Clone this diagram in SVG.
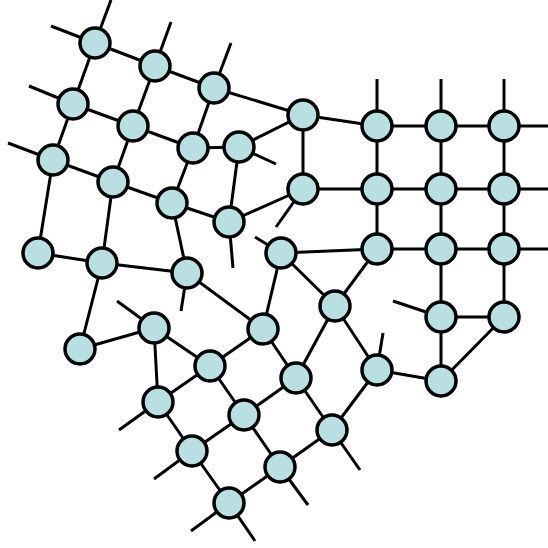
<svg xmlns="http://www.w3.org/2000/svg" width="548" height="548" viewBox="0 0 548 548">
<style>
.e line{stroke:#000;stroke-width:3;stroke-linecap:butt}
.n circle{fill:#badfe2;stroke:#000;stroke-width:3.5}
</style>
<rect width="548" height="548" fill="#fff"/>
<g id="connectors" class="e">
<!-- stubs -->
<line x1="95" y1="43" x2="111" y2="0"/>
<line x1="95" y1="43" x2="51" y2="26"/>
<line x1="155" y1="66" x2="171" y2="22"/>
<line x1="214" y1="88" x2="231" y2="43"/>
<line x1="73" y1="104" x2="29" y2="86"/>
<line x1="53" y1="160" x2="8" y2="143"/>
<line x1="239" y1="147" x2="276" y2="164"/>
<line x1="229" y1="222" x2="233" y2="268"/>
<line x1="303" y1="189" x2="276" y2="227"/>
<line x1="281" y1="253" x2="255" y2="237"/>
<line x1="187" y1="273" x2="181" y2="311"/>
<line x1="154" y1="328" x2="117" y2="301"/>
<line x1="158" y1="402" x2="119" y2="430"/>
<line x1="192" y1="451" x2="154" y2="479"/>
<line x1="229" y1="503" x2="191" y2="531"/>
<line x1="229" y1="503" x2="255" y2="541"/>
<line x1="280" y1="467" x2="308" y2="505"/>
<line x1="332" y1="430" x2="360" y2="470"/>
<line x1="377" y1="370" x2="383" y2="333"/>
<line x1="441" y1="317" x2="393" y2="301"/>
<line x1="377" y1="126" x2="377" y2="79"/>
<line x1="441" y1="126" x2="441" y2="79"/>
<line x1="504" y1="126" x2="504" y2="79"/>
<line x1="504" y1="126" x2="548" y2="126"/>
<line x1="504" y1="189" x2="548" y2="189"/>
<line x1="504" y1="249" x2="548" y2="249"/>
<!-- edges -->
<line x1="95" y1="43" x2="155" y2="66"/>
<line x1="155" y1="66" x2="214" y2="88"/>
<line x1="214" y1="88" x2="303" y2="115"/>
<line x1="95" y1="43" x2="73" y2="104"/>
<line x1="155" y1="66" x2="133" y2="126"/>
<line x1="214" y1="88" x2="193" y2="148"/>
<line x1="73" y1="104" x2="133" y2="126"/>
<line x1="133" y1="126" x2="193" y2="148"/>
<line x1="193" y1="148" x2="239" y2="147"/>
<line x1="239" y1="147" x2="303" y2="115"/>
<line x1="73" y1="104" x2="53" y2="160"/>
<line x1="133" y1="126" x2="113" y2="182"/>
<line x1="193" y1="148" x2="172" y2="203"/>
<line x1="239" y1="147" x2="229" y2="222"/>
<line x1="53" y1="160" x2="113" y2="182"/>
<line x1="113" y1="182" x2="172" y2="203"/>
<line x1="172" y1="203" x2="229" y2="222"/>
<line x1="229" y1="222" x2="303" y2="189"/>
<line x1="53" y1="160" x2="38" y2="253"/>
<line x1="113" y1="182" x2="102" y2="263"/>
<line x1="172" y1="203" x2="187" y2="273"/>
<line x1="38" y1="253" x2="102" y2="263"/>
<line x1="102" y1="263" x2="187" y2="273"/>
<line x1="102" y1="263" x2="80" y2="349"/>
<line x1="80" y1="349" x2="154" y2="328"/>
<line x1="187" y1="273" x2="263" y2="329"/>
<line x1="154" y1="328" x2="210" y2="366"/>
<line x1="154" y1="328" x2="158" y2="402"/>
<line x1="210" y1="366" x2="263" y2="329"/>
<line x1="210" y1="366" x2="158" y2="402"/>
<line x1="210" y1="366" x2="244" y2="415"/>
<line x1="158" y1="402" x2="192" y2="451"/>
<line x1="192" y1="451" x2="244" y2="415"/>
<line x1="192" y1="451" x2="229" y2="503"/>
<line x1="229" y1="503" x2="280" y2="467"/>
<line x1="244" y1="415" x2="280" y2="467"/>
<line x1="244" y1="415" x2="296" y2="378"/>
<line x1="280" y1="467" x2="332" y2="430"/>
<line x1="263" y1="329" x2="296" y2="378"/>
<line x1="263" y1="329" x2="281" y2="253"/>
<line x1="296" y1="378" x2="332" y2="430"/>
<line x1="296" y1="378" x2="335" y2="306"/>
<line x1="281" y1="253" x2="335" y2="306"/>
<line x1="281" y1="253" x2="377" y2="249"/>
<line x1="335" y1="306" x2="377" y2="249"/>
<line x1="335" y1="306" x2="377" y2="370"/>
<line x1="377" y1="370" x2="332" y2="430"/>
<line x1="377" y1="370" x2="441" y2="381"/>
<line x1="441" y1="381" x2="441" y2="317"/>
<line x1="441" y1="381" x2="504" y2="317"/>
<line x1="441" y1="317" x2="504" y2="317"/>
<line x1="441" y1="317" x2="441" y2="249"/>
<line x1="504" y1="317" x2="504" y2="249"/>
<line x1="303" y1="115" x2="377" y2="126"/>
<line x1="377" y1="126" x2="441" y2="126"/>
<line x1="441" y1="126" x2="504" y2="126"/>
<line x1="303" y1="115" x2="303" y2="189"/>
<line x1="377" y1="126" x2="377" y2="189"/>
<line x1="441" y1="126" x2="441" y2="189"/>
<line x1="504" y1="126" x2="504" y2="189"/>
<line x1="303" y1="189" x2="377" y2="189"/>
<line x1="377" y1="189" x2="441" y2="189"/>
<line x1="441" y1="189" x2="504" y2="189"/>
<line x1="377" y1="189" x2="377" y2="249"/>
<line x1="441" y1="189" x2="441" y2="249"/>
<line x1="504" y1="189" x2="504" y2="249"/>
<line x1="377" y1="249" x2="441" y2="249"/>
<line x1="441" y1="249" x2="504" y2="249"/>
</g>
<g class="n">
<g id="nA"><circle cx="95" cy="43" r="15"/></g>
<g id="nB"><circle cx="155" cy="66" r="15"/></g>
<g id="nC"><circle cx="214" cy="88" r="15"/></g>
<g id="nD"><circle cx="73" cy="104" r="15"/></g>
<g id="nE"><circle cx="133" cy="126" r="15"/></g>
<g id="nF"><circle cx="193" cy="148" r="15"/></g>
<g id="nG"><circle cx="239" cy="147" r="15"/></g>
<g id="nH"><circle cx="53" cy="160" r="15"/></g>
<g id="nI"><circle cx="113" cy="182" r="15"/></g>
<g id="nJ"><circle cx="172" cy="203" r="15"/></g>
<g id="nK"><circle cx="229" cy="222" r="15"/></g>
<g id="nL"><circle cx="38" cy="253" r="15"/></g>
<g id="nM"><circle cx="102" cy="263" r="15"/></g>
<g id="nN"><circle cx="187" cy="273" r="15"/></g>
<g id="nO"><circle cx="303" cy="115" r="15"/></g>
<g id="nP"><circle cx="377" cy="126" r="15"/></g>
<g id="nQ"><circle cx="441" cy="126" r="15"/></g>
<g id="nR"><circle cx="504" cy="126" r="15"/></g>
<g id="nS"><circle cx="303" cy="189" r="15"/></g>
<g id="nT"><circle cx="377" cy="189" r="15"/></g>
<g id="nU"><circle cx="441" cy="189" r="15"/></g>
<g id="nV"><circle cx="504" cy="189" r="15"/></g>
<g id="nW"><circle cx="281" cy="253" r="15"/></g>
<g id="nX"><circle cx="377" cy="249" r="15"/></g>
<g id="nY"><circle cx="441" cy="249" r="15"/></g>
<g id="nZ"><circle cx="504" cy="249" r="15"/></g>
<g id="na"><circle cx="80" cy="349" r="15"/></g>
<g id="nb"><circle cx="154" cy="328" r="15"/></g>
<g id="nc"><circle cx="210" cy="366" r="15"/></g>
<g id="nd"><circle cx="263" cy="329" r="15"/></g>
<g id="ne"><circle cx="158" cy="402" r="15"/></g>
<g id="nf"><circle cx="244" cy="415" r="15"/></g>
<g id="ng"><circle cx="192" cy="451" r="15"/></g>
<g id="nh"><circle cx="280" cy="467" r="15"/></g>
<g id="ni"><circle cx="229" cy="503" r="15"/></g>
<g id="nj"><circle cx="335" cy="306" r="15"/></g>
<g id="nl"><circle cx="296" cy="378" r="15"/></g>
<g id="nm"><circle cx="377" cy="370" r="15"/></g>
<g id="nn"><circle cx="441" cy="317" r="15"/></g>
<g id="no"><circle cx="504" cy="317" r="15"/></g>
<g id="np"><circle cx="441" cy="381" r="15"/></g>
<g id="nq"><circle cx="332" cy="430" r="15"/></g>
</g>
</svg>
